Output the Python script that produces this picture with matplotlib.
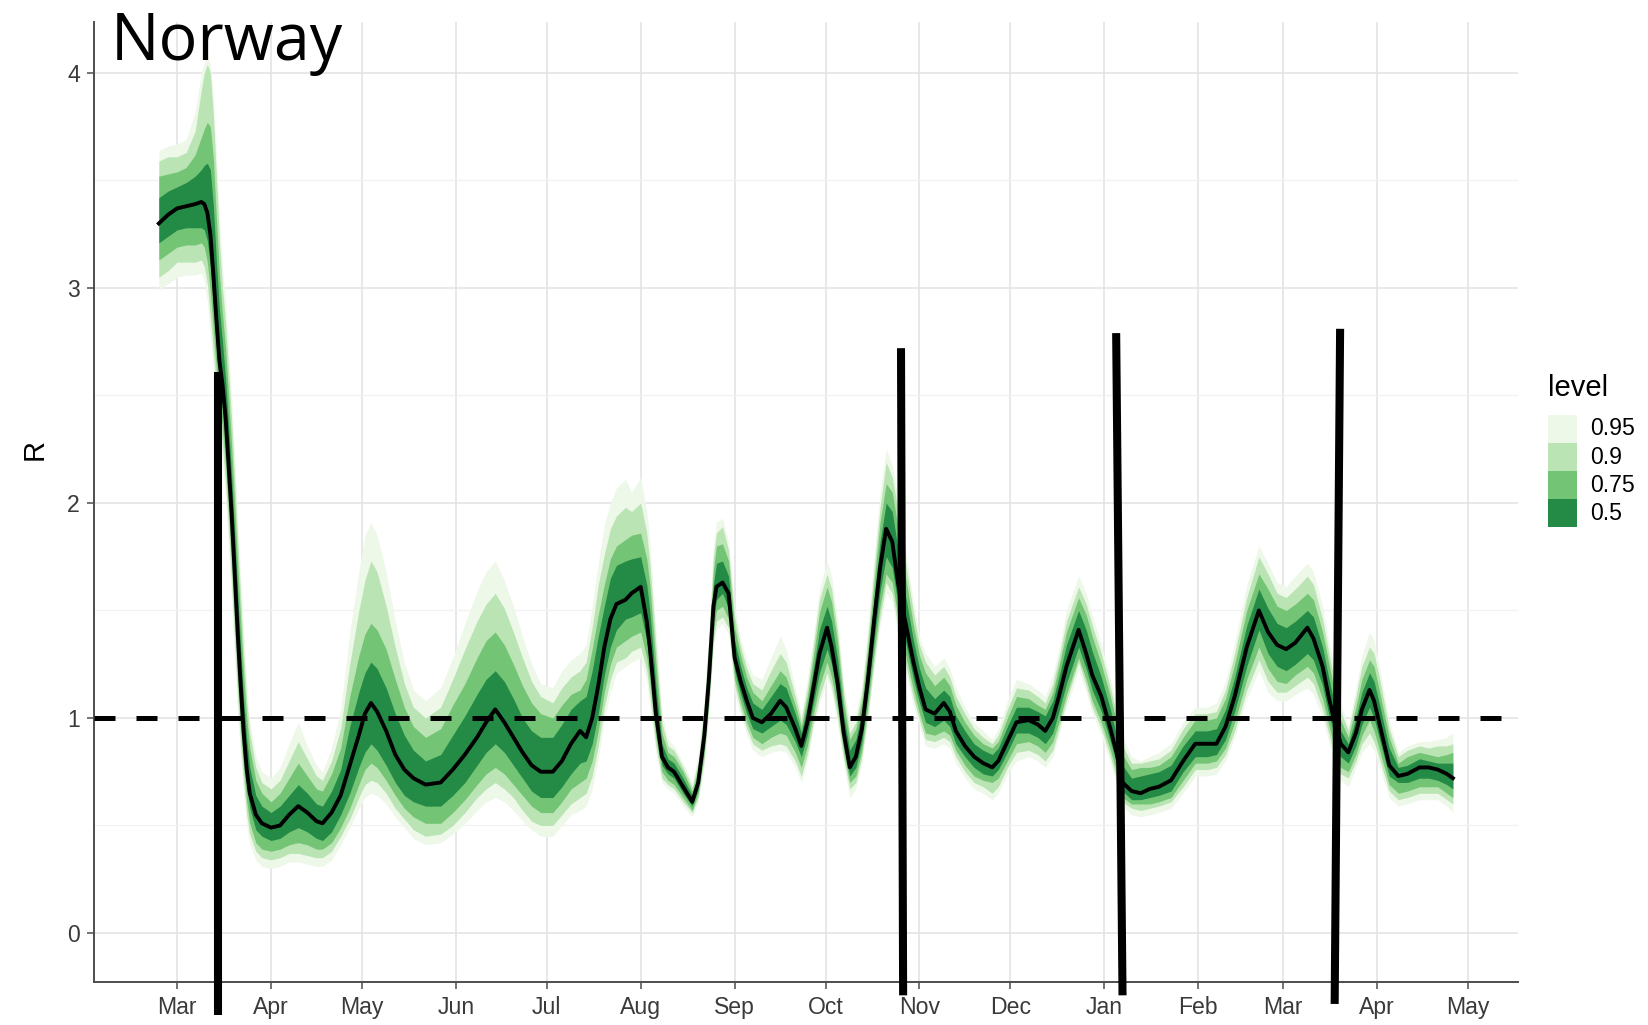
import numpy as np
import pandas as pd
import matplotlib
matplotlib.use("Agg")
import matplotlib.pyplot as plt
import matplotlib.dates as mdates
from matplotlib.patches import Rectangle

# days since 2020-03-01, R median and quantile ribbons
days = [-6, -3, 0, 3, 6, 8, 9, 10, 11, 12,
        13, 14, 15, 16, 17, 18, 19, 20, 21, 22,
        23, 24, 26, 28, 31, 34, 37, 40, 43, 46,
        48, 51, 54, 57, 60, 62, 64, 66, 69, 72,
        75, 78, 82, 87, 91, 95, 99, 102, 105, 108,
        111, 114, 117, 120, 124, 127, 130, 133, 135, 137,
        139, 141, 143, 145, 148, 150, 153, 155, 156, 157,
        158, 160, 162, 164, 167, 170, 172, 174, 175.5, 177,
        178, 180, 182, 184, 186, 188, 190, 193, 196, 199,
        201, 204, 206, 208, 210, 212, 214.5, 216, 218, 220,
        222, 224, 226, 228, 230, 232, 234, 236, 238, 240,
        243, 245, 247, 250, 253, 255, 257, 260, 263, 266,
        269, 271, 274, 277, 281, 284, 286.5, 289, 291, 293.5,
        297.5, 300, 302, 305, 308, 310, 312, 315, 318, 321,
        324, 328, 332, 336, 340, 343, 346, 349, 353, 357,
        360, 363, 366, 369, 373, 375, 378, 380, 382, 384,
        386.5, 389, 391, 393.5, 395, 397, 400, 403, 406, 410,
        413, 416, 419, 421]

r_med = [3.30, 3.34, 3.37, 3.38, 3.39, 3.40, 3.39, 3.35, 3.25, 3.06,
         2.85, 2.66, 2.55, 2.40, 2.18, 1.95, 1.68, 1.40, 1.15, 0.93,
         0.76, 0.65, 0.55, 0.51, 0.49, 0.50, 0.55, 0.59, 0.56, 0.52,
         0.51, 0.56, 0.64, 0.78, 0.92, 1.02, 1.07, 1.03, 0.94, 0.83,
         0.76, 0.72, 0.69, 0.70, 0.76, 0.83, 0.91, 0.98, 1.04, 0.98,
         0.91, 0.84, 0.78, 0.75, 0.75, 0.80, 0.88, 0.94, 0.91, 1.00,
         1.15, 1.33, 1.46, 1.53, 1.55, 1.58, 1.61, 1.45, 1.33, 1.18,
         1.02, 0.82, 0.77, 0.75, 0.68, 0.61, 0.70, 0.92, 1.18, 1.52,
         1.61, 1.63, 1.58, 1.28, 1.17, 1.08, 1.00, 0.98, 1.02, 1.08,
         1.05, 0.95, 0.87, 0.98, 1.14, 1.30, 1.42, 1.33, 1.16, 0.93,
         0.77, 0.82, 0.95, 1.18, 1.45, 1.70, 1.88, 1.82, 1.62, 1.47,
         1.26, 1.14, 1.04, 1.02, 1.07, 1.03, 0.94, 0.87, 0.82, 0.79,
         0.77, 0.80, 0.89, 0.98, 0.99, 0.97, 0.94, 1.00, 1.10, 1.24,
         1.41, 1.30, 1.20, 1.10, 0.95, 0.84, 0.70, 0.66, 0.65, 0.67,
         0.68, 0.71, 0.80, 0.88, 0.88, 0.88, 0.96, 1.10, 1.33, 1.50,
         1.40, 1.34, 1.32, 1.35, 1.42, 1.37, 1.24, 1.10, 0.98, 0.88,
         0.84, 0.93, 1.04, 1.13, 1.08, 0.96, 0.78, 0.73, 0.74, 0.77,
         0.77, 0.76, 0.74, 0.72]

lo50 = [3.21, 3.24, 3.27, 3.28, 3.28, 3.28, 3.27, 3.22, 3.10, 2.92,
        2.72, 2.55, 2.44, 2.28, 2.06, 1.82, 1.55, 1.28, 1.04, 0.84,
        0.68, 0.58, 0.48, 0.45, 0.43, 0.44, 0.47, 0.49, 0.47, 0.44,
        0.43, 0.47, 0.55, 0.65, 0.77, 0.84, 0.88, 0.85, 0.78, 0.70,
        0.64, 0.61, 0.59, 0.59, 0.64, 0.70, 0.78, 0.84, 0.88, 0.84,
        0.78, 0.72, 0.66, 0.63, 0.63, 0.68, 0.74, 0.79, 0.80, 0.88,
        1.02, 1.20, 1.33, 1.41, 1.46, 1.47, 1.49, 1.36, 1.24, 1.10,
        0.96, 0.78, 0.74, 0.72, 0.65, 0.59, 0.67, 0.87, 1.12, 1.45,
        1.55, 1.58, 1.51, 1.22, 1.11, 1.02, 0.95, 0.93, 0.96, 0.99,
        0.97, 0.89, 0.82, 0.92, 1.07, 1.21, 1.32, 1.25, 1.09, 0.88,
        0.73, 0.77, 0.89, 1.11, 1.36, 1.59, 1.75, 1.70, 1.52, 1.38,
        1.18, 1.07, 0.98, 0.96, 0.99, 0.96, 0.88, 0.82, 0.77, 0.74,
        0.73, 0.76, 0.84, 0.93, 0.93, 0.91, 0.88, 0.93, 1.03, 1.16,
        1.33, 1.23, 1.13, 1.03, 0.89, 0.79, 0.66, 0.62, 0.62, 0.63,
        0.64, 0.66, 0.75, 0.82, 0.82, 0.83, 0.90, 1.03, 1.24, 1.41,
        1.30, 1.24, 1.22, 1.25, 1.30, 1.27, 1.15, 1.02, 0.91, 0.82,
        0.79, 0.87, 0.97, 1.05, 1.00, 0.89, 0.73, 0.70, 0.70, 0.72,
        0.72, 0.71, 0.69, 0.67]

hi50 = [3.42, 3.45, 3.47, 3.49, 3.52, 3.55, 3.57, 3.58, 3.55, 3.38,
        3.12, 2.90, 2.75, 2.58, 2.36, 2.13, 1.86, 1.58, 1.32, 1.08,
        0.90, 0.77, 0.64, 0.59, 0.56, 0.59, 0.64, 0.69, 0.65, 0.60,
        0.59, 0.66, 0.76, 0.96, 1.12, 1.21, 1.26, 1.23, 1.14, 1.02,
        0.92, 0.85, 0.80, 0.83, 0.92, 1.01, 1.11, 1.18, 1.22, 1.17,
        1.09, 1.00, 0.94, 0.91, 0.91, 0.97, 1.04, 1.08, 1.10, 1.22,
        1.38, 1.52, 1.65, 1.71, 1.73, 1.74, 1.75, 1.62, 1.50, 1.33,
        1.15, 0.88, 0.81, 0.79, 0.72, 0.64, 0.74, 0.98, 1.26, 1.62,
        1.72, 1.73, 1.66, 1.36, 1.24, 1.14, 1.07, 1.04, 1.10, 1.16,
        1.14, 1.02, 0.93, 1.06, 1.23, 1.41, 1.52, 1.45, 1.27, 1.01,
        0.85, 0.90, 1.03, 1.27, 1.56, 1.82, 2.00, 1.96, 1.78, 1.60,
        1.36, 1.23, 1.14, 1.09, 1.13, 1.10, 1.01, 0.94, 0.88, 0.85,
        0.83, 0.86, 0.96, 1.05, 1.05, 1.03, 1.01, 1.08, 1.19, 1.34,
        1.50, 1.41, 1.31, 1.19, 1.04, 0.92, 0.78, 0.72, 0.73, 0.74,
        0.75, 0.78, 0.87, 0.94, 0.94, 0.95, 1.04, 1.19, 1.43, 1.60,
        1.51, 1.44, 1.42, 1.45, 1.50, 1.47, 1.33, 1.19, 1.06, 0.94,
        0.88, 1.00, 1.12, 1.21, 1.17, 1.05, 0.86, 0.77, 0.78, 0.81,
        0.80, 0.79, 0.79, 0.79]

lo75 = [3.13, 3.16, 3.19, 3.20, 3.20, 3.21, 3.19, 3.12, 2.98, 2.80,
        2.62, 2.46, 2.35, 2.18, 1.96, 1.72, 1.45, 1.18, 0.95, 0.76,
        0.61, 0.51, 0.42, 0.39, 0.38, 0.39, 0.41, 0.42, 0.41, 0.39,
        0.39, 0.42, 0.49, 0.58, 0.69, 0.76, 0.79, 0.77, 0.71, 0.64,
        0.58, 0.54, 0.51, 0.51, 0.56, 0.62, 0.69, 0.74, 0.77, 0.74,
        0.69, 0.64, 0.59, 0.56, 0.56, 0.61, 0.67, 0.70, 0.72, 0.80,
        0.94, 1.12, 1.25, 1.33, 1.36, 1.38, 1.40, 1.28, 1.17, 1.04,
        0.91, 0.75, 0.71, 0.69, 0.63, 0.57, 0.65, 0.84, 1.08, 1.40,
        1.50, 1.52, 1.46, 1.18, 1.07, 0.98, 0.91, 0.88, 0.91, 0.93,
        0.92, 0.84, 0.77, 0.87, 1.02, 1.15, 1.26, 1.19, 1.04, 0.84,
        0.70, 0.73, 0.85, 1.06, 1.30, 1.52, 1.67, 1.63, 1.46, 1.32,
        1.13, 1.02, 0.93, 0.92, 0.94, 0.92, 0.85, 0.78, 0.73, 0.71,
        0.70, 0.72, 0.80, 0.88, 0.89, 0.87, 0.84, 0.89, 0.98, 1.11,
        1.28, 1.18, 1.08, 0.98, 0.85, 0.75, 0.63, 0.60, 0.60, 0.60,
        0.61, 0.63, 0.71, 0.79, 0.79, 0.80, 0.86, 0.98, 1.18, 1.33,
        1.23, 1.17, 1.16, 1.20, 1.24, 1.21, 1.09, 0.97, 0.86, 0.77,
        0.75, 0.83, 0.92, 0.99, 0.94, 0.84, 0.69, 0.65, 0.66, 0.68,
        0.68, 0.68, 0.65, 0.63]

hi75 = [3.52, 3.53, 3.54, 3.56, 3.62, 3.70, 3.74, 3.77, 3.75, 3.60,
        3.32, 3.06, 2.88, 2.72, 2.50, 2.27, 2.00, 1.72, 1.45, 1.20,
        1.00, 0.86, 0.71, 0.65, 0.61, 0.65, 0.72, 0.79, 0.73, 0.67,
        0.66, 0.74, 0.86, 1.10, 1.29, 1.39, 1.44, 1.41, 1.32, 1.18,
        1.05, 0.96, 0.91, 0.95, 1.06, 1.16, 1.28, 1.36, 1.40, 1.34,
        1.25, 1.15, 1.07, 1.02, 1.00, 1.06, 1.11, 1.13, 1.18, 1.32,
        1.48, 1.62, 1.74, 1.80, 1.83, 1.85, 1.86, 1.74, 1.62, 1.44,
        1.26, 0.93, 0.84, 0.82, 0.75, 0.66, 0.77, 1.02, 1.32, 1.69,
        1.80, 1.81, 1.73, 1.42, 1.29, 1.19, 1.12, 1.08, 1.15, 1.22,
        1.19, 1.06, 0.96, 1.10, 1.29, 1.49, 1.61, 1.54, 1.35, 1.07,
        0.90, 0.95, 1.08, 1.33, 1.63, 1.91, 2.09, 2.05, 1.88, 1.69,
        1.43, 1.29, 1.21, 1.15, 1.19, 1.15, 1.06, 0.98, 0.92, 0.88,
        0.86, 0.89, 1.00, 1.10, 1.09, 1.06, 1.04, 1.12, 1.24, 1.40,
        1.56, 1.48, 1.38, 1.25, 1.10, 0.98, 0.83, 0.76, 0.77, 0.77,
        0.78, 0.82, 0.91, 0.99, 0.99, 1.00, 1.09, 1.25, 1.50, 1.67,
        1.60, 1.52, 1.50, 1.53, 1.58, 1.55, 1.40, 1.26, 1.12, 0.99,
        0.91, 1.05, 1.18, 1.27, 1.24, 1.11, 0.91, 0.79, 0.82, 0.84,
        0.83, 0.82, 0.83, 0.84]

lo90 = [3.05, 3.08, 3.12, 3.12, 3.12, 3.13, 3.10, 3.02, 2.86, 2.70,
        2.53, 2.38, 2.27, 2.10, 1.88, 1.63, 1.36, 1.10, 0.88, 0.70,
        0.55, 0.46, 0.38, 0.35, 0.34, 0.35, 0.37, 0.37, 0.36, 0.35,
        0.35, 0.38, 0.45, 0.53, 0.63, 0.69, 0.71, 0.70, 0.65, 0.58,
        0.53, 0.48, 0.45, 0.46, 0.50, 0.56, 0.63, 0.67, 0.70, 0.67,
        0.63, 0.57, 0.52, 0.50, 0.50, 0.55, 0.60, 0.63, 0.65, 0.73,
        0.87, 1.05, 1.18, 1.26, 1.28, 1.31, 1.33, 1.22, 1.11, 0.99,
        0.87, 0.72, 0.69, 0.67, 0.61, 0.56, 0.63, 0.81, 1.05, 1.36,
        1.45, 1.47, 1.42, 1.15, 1.04, 0.95, 0.88, 0.85, 0.87, 0.88,
        0.87, 0.80, 0.73, 0.83, 0.98, 1.10, 1.21, 1.15, 1.00, 0.81,
        0.67, 0.70, 0.82, 1.02, 1.26, 1.47, 1.63, 1.58, 1.42, 1.28,
        1.09, 0.99, 0.90, 0.89, 0.91, 0.89, 0.82, 0.75, 0.70, 0.68,
        0.65, 0.68, 0.77, 0.84, 0.85, 0.83, 0.80, 0.85, 0.95, 1.08,
        1.26, 1.15, 1.05, 0.95, 0.82, 0.72, 0.61, 0.58, 0.57, 0.58,
        0.59, 0.61, 0.68, 0.76, 0.76, 0.77, 0.83, 0.94, 1.13, 1.27,
        1.17, 1.12, 1.12, 1.15, 1.19, 1.16, 1.04, 0.93, 0.82, 0.74,
        0.72, 0.80, 0.88, 0.93, 0.89, 0.80, 0.66, 0.62, 0.63, 0.65,
        0.65, 0.65, 0.62, 0.60]

hi90 = [3.59, 3.61, 3.61, 3.63, 3.73, 3.92, 4.00, 4.04, 4.00, 3.80,
        3.52, 3.22, 3.00, 2.84, 2.62, 2.39, 2.12, 1.84, 1.56, 1.30,
        1.08, 0.93, 0.77, 0.70, 0.67, 0.71, 0.80, 0.89, 0.81, 0.73,
        0.71, 0.80, 0.95, 1.25, 1.50, 1.64, 1.73, 1.68, 1.52, 1.33,
        1.16, 1.05, 1.00, 1.05, 1.18, 1.32, 1.45, 1.53, 1.58, 1.51,
        1.40, 1.28, 1.17, 1.10, 1.07, 1.14, 1.19, 1.22, 1.26, 1.42,
        1.62, 1.76, 1.88, 1.94, 1.98, 1.96, 2.00, 1.86, 1.72, 1.54,
        1.34, 0.98, 0.87, 0.85, 0.77, 0.68, 0.80, 1.06, 1.37, 1.75,
        1.86, 1.89, 1.78, 1.47, 1.33, 1.23, 1.16, 1.13, 1.22, 1.30,
        1.26, 1.10, 0.99, 1.14, 1.34, 1.55, 1.67, 1.60, 1.40, 1.12,
        0.93, 0.98, 1.12, 1.38, 1.69, 1.98, 2.19, 2.12, 1.96, 1.76,
        1.49, 1.34, 1.26, 1.20, 1.24, 1.19, 1.10, 1.02, 0.95, 0.91,
        0.88, 0.92, 1.04, 1.14, 1.13, 1.10, 1.07, 1.16, 1.28, 1.45,
        1.61, 1.53, 1.43, 1.30, 1.14, 1.02, 0.87, 0.79, 0.79, 0.80,
        0.81, 0.85, 0.95, 1.02, 1.02, 1.03, 1.13, 1.30, 1.56, 1.75,
        1.67, 1.58, 1.56, 1.60, 1.66, 1.62, 1.46, 1.31, 1.17, 1.03,
        0.94, 1.10, 1.24, 1.33, 1.30, 1.17, 0.95, 0.82, 0.85, 0.87,
        0.86, 0.87, 0.87, 0.88]

lo95 = [2.99, 3.02, 3.05, 3.06, 3.06, 3.07, 3.03, 2.94, 2.78, 2.62,
        2.45, 2.30, 2.20, 2.02, 1.80, 1.55, 1.28, 1.02, 0.82, 0.64,
        0.50, 0.41, 0.34, 0.31, 0.30, 0.31, 0.33, 0.33, 0.32, 0.31,
        0.31, 0.34, 0.41, 0.49, 0.58, 0.63, 0.65, 0.64, 0.60, 0.54,
        0.49, 0.44, 0.41, 0.42, 0.46, 0.51, 0.57, 0.61, 0.63, 0.61,
        0.57, 0.52, 0.48, 0.45, 0.45, 0.50, 0.55, 0.57, 0.59, 0.67,
        0.81, 0.99, 1.12, 1.21, 1.24, 1.26, 1.28, 1.17, 1.06, 0.95,
        0.84, 0.70, 0.67, 0.65, 0.59, 0.54, 0.61, 0.78, 1.02, 1.32,
        1.41, 1.44, 1.39, 1.12, 1.01, 0.92, 0.85, 0.82, 0.84, 0.85,
        0.84, 0.77, 0.70, 0.80, 0.95, 1.07, 1.18, 1.12, 0.97, 0.78,
        0.63, 0.67, 0.79, 0.99, 1.22, 1.43, 1.58, 1.54, 1.38, 1.24,
        1.06, 0.96, 0.87, 0.86, 0.88, 0.86, 0.79, 0.72, 0.67, 0.65,
        0.62, 0.65, 0.74, 0.80, 0.82, 0.80, 0.77, 0.82, 0.92, 1.05,
        1.22, 1.12, 1.02, 0.92, 0.79, 0.70, 0.59, 0.55, 0.54, 0.55,
        0.56, 0.58, 0.65, 0.73, 0.73, 0.74, 0.80, 0.91, 1.09, 1.22,
        1.12, 1.08, 1.08, 1.11, 1.14, 1.11, 1.00, 0.89, 0.79, 0.71,
        0.68, 0.77, 0.84, 0.88, 0.85, 0.76, 0.63, 0.59, 0.60, 0.62,
        0.62, 0.62, 0.59, 0.56]

hi95 = [3.64, 3.66, 3.67, 3.69, 3.82, 4.00, 4.05, 4.08, 4.04, 3.88,
        3.62, 3.32, 3.10, 2.95, 2.72, 2.50, 2.22, 1.94, 1.66, 1.40,
        1.16, 0.99, 0.82, 0.75, 0.72, 0.77, 0.88, 0.98, 0.87, 0.78,
        0.75, 0.86, 1.04, 1.40, 1.68, 1.85, 1.91, 1.85, 1.68, 1.45,
        1.26, 1.13, 1.08, 1.14, 1.28, 1.44, 1.59, 1.68, 1.73, 1.64,
        1.52, 1.38, 1.25, 1.16, 1.14, 1.22, 1.27, 1.30, 1.34, 1.52,
        1.72, 1.90, 2.00, 2.07, 2.11, 2.05, 2.12, 1.96, 1.82, 1.62,
        1.42, 1.03, 0.90, 0.87, 0.79, 0.70, 0.83, 1.10, 1.42, 1.80,
        1.91, 1.93, 1.82, 1.52, 1.37, 1.27, 1.20, 1.18, 1.28, 1.38,
        1.32, 1.14, 1.02, 1.18, 1.38, 1.60, 1.73, 1.66, 1.45, 1.16,
        0.98, 1.02, 1.16, 1.43, 1.75, 2.05, 2.25, 2.18, 2.02, 1.82,
        1.54, 1.38, 1.30, 1.24, 1.28, 1.23, 1.14, 1.05, 0.98, 0.94,
        0.90, 0.95, 1.08, 1.18, 1.16, 1.13, 1.10, 1.20, 1.32, 1.50,
        1.66, 1.58, 1.48, 1.34, 1.18, 1.06, 0.91, 0.82, 0.80, 0.82,
        0.84, 0.88, 0.98, 1.05, 1.05, 1.07, 1.17, 1.35, 1.62, 1.80,
        1.72, 1.63, 1.61, 1.66, 1.72, 1.68, 1.52, 1.36, 1.22, 1.07,
        0.96, 1.14, 1.29, 1.40, 1.36, 1.22, 0.99, 0.84, 0.87, 0.89,
        0.89, 0.90, 0.91, 0.93]

levels = ["0.95", "0.9", "0.75", "0.5"]
level_colors = ["#EDF8E9", "#BAE4B3", "#74C476", "#238B45"]

# hand-drawn marker bars (top/bottom day and R value)
mark_day_top = [13.4, 238.9, 309.9, 383.8]
mark_day_bot = [13.4, 239.6, 312.0, 382.0]
mark_r_top = [2.61, 2.72, 2.79, 2.81]
mark_r_bot = [-0.38, -0.29, -0.29, -0.33]

start = pd.Timestamp("2020-03-01")


def to_date(d):
    return (start + pd.to_timedelta(np.asarray(d, dtype=float), unit="D")).values


x = to_date(days)

plt.rcParams["font.family"] = ["Liberation Sans", "DejaVu Sans"]
W, H = 1648, 1025
fig = plt.figure(figsize=(W / 100, H / 100), dpi=100)
ax = fig.add_axes([94 / W, 1 - 982 / H, (1518 - 94) / W, (982 - 22) / H])

bands = [(lo95, hi95), (lo90, hi90), (lo75, hi75), (lo50, hi50)]
for (lo, hi), col in zip(bands, level_colors):
    ax.fill_between(x, lo, hi, color=col, lw=0, zorder=2)
ax.plot(x, r_med, color="black", lw=2.8, zorder=3, solid_joinstyle="round")
ax.axhline(1, color="black", lw=3.6, dashes=(4.2, 4.2), zorder=4)

for d0, d1, y0, y1 in zip(mark_day_top, mark_day_bot, mark_r_top, mark_r_bot):
    ax.plot(to_date([d0, d1]), [y0, y1], color="black", lw=5.8,
            solid_capstyle="butt", clip_on=False, zorder=6)

ax.set_xlim(to_date([-27.4, 442.5]))
ax.set_ylim(-0.228, 4.237)
ax.set_yticks([0, 1, 2, 3, 4])
ax.set_yticks([0.5, 1.5, 2.5, 3.5], minor=True)
ax.xaxis.set_major_locator(mdates.MonthLocator())
ax.xaxis.set_major_formatter(mdates.DateFormatter("%b"))

ax.grid(which="major", color="#E2E2E2", lw=1.1, zorder=0)
ax.grid(which="minor", axis="y", color="#F1F1F1", lw=0.9, zorder=0)
ax.set_axisbelow(True)
for s in ["top", "right"]:
    ax.spines[s].set_visible(False)
for s in ["left", "bottom"]:
    ax.spines[s].set_color("#4D4D4D")
    ax.spines[s].set_linewidth(1.4)
ax.tick_params(which="major", length=5, width=1.1, color="#4D4D4D",
               labelsize=16.6, labelcolor="#3A3A3A", pad=5)
ax.tick_params(which="minor", length=0)

fig.text(34.7 / W, 1 - 449 / H, "R", rotation=90, ha="center", va="center",
         fontsize=21)
fig.text(111 / W, 1 - 60 / H, "Norway", fontsize=46.5, va="baseline",
         ha="left", family=["Open Sans", "DejaVu Sans"])

# legend, ggplot style: stacked square keys under a left aligned title
fig.text(1548 / W, 1 - 388 / H, "level", fontsize=21, ha="left", va="center")
key_x, key_w, key_h, key_top = 1548, 29, 28, 415
for i, (lab, col) in enumerate(zip(levels, level_colors)):
    y0 = key_top + i * key_h
    fig.add_artist(Rectangle((key_x / W, 1 - (y0 + key_h) / H), key_w / W,
                             key_h / H, transform=fig.transFigure,
                             facecolor=col, edgecolor="none"))
    fig.text(1590 / W, 1 - (y0 + key_h / 2) / H, lab, fontsize=16.6,
             ha="left", va="center")

fig.savefig("out.png", dpi=100)
